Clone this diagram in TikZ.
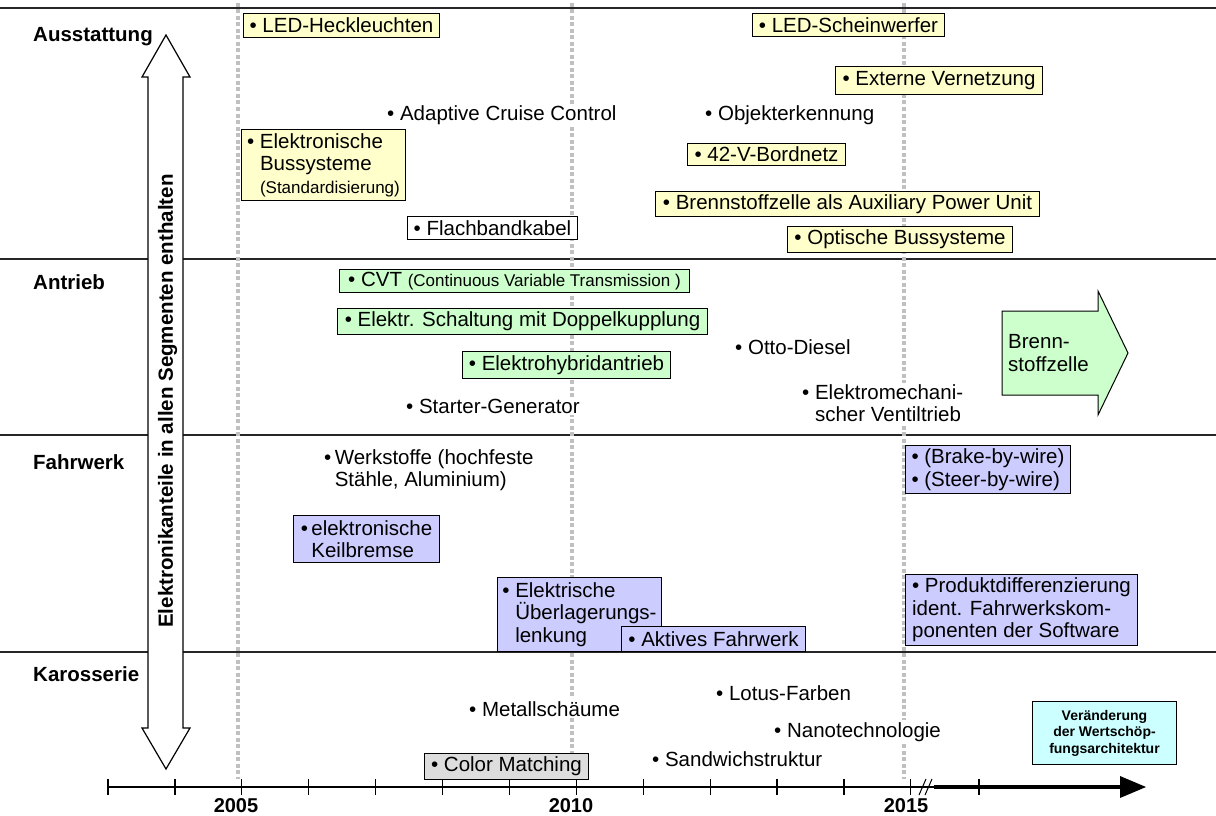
\documentclass[tikz,border=0pt]{standalone}
\usepackage{fontspec}
\setmainfont{Liberation Sans}
\definecolor{yel}{HTML}{FFFFCC}
\definecolor{grn}{HTML}{CCFFCC}
\definecolor{blu}{HTML}{CCCCFF}
\definecolor{gry}{HTML}{DDDDDD}
\definecolor{cya}{HTML}{CCFFFF}
\definecolor{dashgray}{HTML}{C0C0C0}
\newcommand\ind{\hphantom{•\ }}
\newcommand\indt{\hphantom{•\,}}
\newcommand\smallfs{\fontsize{17}{20}\selectfont}
\begin{document}
\begin{tikzpicture}[x=1pt,y=-1pt,
  every node/.style={font=\fontsize{20.5}{22.5}\selectfont},
  bx/.style={draw=black, line width=1pt, anchor=north west, inner xsep=4pt, inner ysep=0pt, align=left},
  yb/.style={bx, fill=yel},
  gb/.style={bx, fill=grn},
  bb/.style={bx, fill=blu},
  tx/.style={anchor=base west, inner xsep=0pt, inner ysep=2pt, fill=white, align=left},
  txn/.style={anchor=north west, inner xsep=0pt, inner ysep=2pt, fill=white, align=left},
  sec/.style={anchor=base west, inner sep=0pt, font=\fontsize{20.5}{24}\selectfont\bfseries},
  yr/.style={anchor=base, inner sep=0pt, font=\fontsize{20}{24}\selectfont\bfseries},
  secline/.style={line width=1.3pt, black!85},
  yearline/.style={line width=3.5pt, dashgray, dash pattern=on 4pt off 2.5pt},
]
\useasboundingbox (0,0) rectangle (1216,816);
\fill[white] (0,0) rectangle (1216,816);

% section lines
\draw[secline] (0,8) -- (1216,8);
\draw[secline] (0,259) -- (1216,259);
\draw[secline] (0,435) -- (1216,435);
\draw[secline] (0,652) -- (1216,652);

% year lines
\draw[yearline] (238,3) -- (238,779);
\draw[yearline] (572,3) -- (572,779);
\draw[yearline] (904,3) -- (904,779);

% section labels
\node[sec] (s1) at (33,42) {Ausstattung};
\node[sec] (s2) at (33,289) {Antrieb};
\node[sec] (s3) at (33,469) {Fahrwerk};
\node[sec] (s4) at (33,681) {Karosserie};

% double arrow
\draw[line width=1.2pt, fill=white] (166,35) -- (190,77) -- (183,77) -- (183,728) -- (190,728) -- (166,769)
  -- (142,728) -- (148,728) -- (148,77) -- (142,77) -- cycle;
\node[rotate=90, inner sep=0pt, font=\fontsize{20.5}{24}\selectfont\bfseries] (vt) at (167.5,401) {Elektronikanteile in allen Segmenten enthalten};

% Ausstattung
\node[yb, minimum width=196, minimum height=24] (a1) at (243,13) {• LED-Heckleuchten};
\node[tx] (a2) at (387,120.5) {• Adaptive Cruise Control};
\node[yb, minimum width=164, minimum height=71] (a3) at (241,129) {• Elektronische\\\ind Bussysteme\\\ind{\smallfs(Standardisierung)}};
\node[bx, fill=white, minimum width=170, minimum height=23] (a4) at (407,216) {• Flachbandkabel};
\node[yb, minimum width=192, minimum height=23] (a5) at (752,13) {• LED-Scheinwerfer};
\node[yb, minimum width=207, minimum height=28] (a6) at (835,66) {• Externe Vernetzung};
\node[tx] (a7) at (705,120.5) {• Objekterkennung};
\node[yb, minimum width=158, minimum height=22] (a8) at (687,143) {• 42-V-Bordnetz};
\node[yb, minimum width=384, minimum height=25] (a9) at (655,191) {• Brennstoffzelle als Auxiliary Power Unit};
\node[yb, minimum width=225, minimum height=26] (a10) at (787,226) {• Optische Bussysteme};

% Antrieb
\node[gb, minimum width=350, minimum height=23] (b1) at (339,269) {• CVT {\smallfs(Continuous Variable Transmission )}};
\node[gb, minimum width=370, minimum height=26] (b2) at (337,308) {• Elektr. Schaltung mit Doppelkupplung};
\node[gb, minimum width=208, minimum height=27] (b3) at (462,351) {• Elektrohybridantrieb};
\node[tx] (b4) at (406,413) {• Starter-Generator};
\node[tx] (b5) at (735,354) {• Otto-Diesel};
\node[txn] (b6) at (802,382.3) {• Elektromechani-\\\ind scher Ventiltrieb};
\draw[line width=1pt, fill=grn] (1002,311) -- (1098,311) -- (1098,291) -- (1128,353) -- (1098,415) -- (1098,395) -- (1002,395) -- cycle;
\node[anchor=north west, inner sep=0pt, align=left] (b7) at (1008,334.3) {Brenn-\\stoffzelle};

% Fahrwerk
\node[txn] (c1) at (324,447.3) {•\,Werkstoffe (hochfeste\\\indt Stähle, Aluminium)};
\node[bb, minimum width=146, minimum height=47] (c2) at (293,515) {•\,elektronische\\\indt Keilbremse};
\node[bb, minimum width=164, minimum height=74] (c3) at (497,577) {• Elektrische\\\ind Überlagerungs-\\\ind lenkung};
\node[bb, minimum width=184, minimum height=25] (c4) at (621,626) {• Aktives Fahrwerk};
\node[bb, minimum width=165, minimum height=48] (c5) at (905,445) {• (Brake-by-wire)\\• (Steer-by-wire)};
\node[bb, minimum width=232, minimum height=71] (c6) at (905,574) {• Produktdifferenzierung\\ident. Fahrwerkskom-\\ponenten der Software};

% Karosserie
\node[tx] (d1) at (469,716) {• Metallschäume};
\node[tx] (d2) at (716,700) {• Lotus-Farben};
\node[tx] (d3) at (774,737) {• Nanotechnologie};
\node[tx] (d4) at (652,766) {• Sandwichstruktur};
\node[bx, fill=gry, minimum width=164, minimum height=26] (d5) at (424,753) {• Color Matching};
\node[bx, fill=cya, minimum width=144, minimum height=63, align=center, font=\fontsize{14}{16.5}\selectfont\bfseries] (d6) at (1032,701) {Veränderung\\der Wertschöp-\\fungsarchitektur};

% time axis
\draw[line width=1.2pt] (108,787) -- (934,787);
\foreach \i in {0,...,12} {
  \draw[line width=1.2pt] ({108+66.9*\i},779) -- ({108+66.9*\i},795);
}
\draw[line width=1pt] (919,795) -- (926,779);
\draw[line width=1pt] (925,795) -- (932,779);
\draw[line width=3.5pt] (934,787) -- (1122,787);
\fill (1120,776) -- (1146,787) -- (1120,798) -- cycle;
\draw[line width=1.2pt] (979,779) -- (979,795);
\node[yr] (y1) at (236,812) {2005};
\node[yr] (y2) at (571,812) {2010};
\node[yr] (y3) at (906,812) {2015};
\end{tikzpicture}
\end{document}
